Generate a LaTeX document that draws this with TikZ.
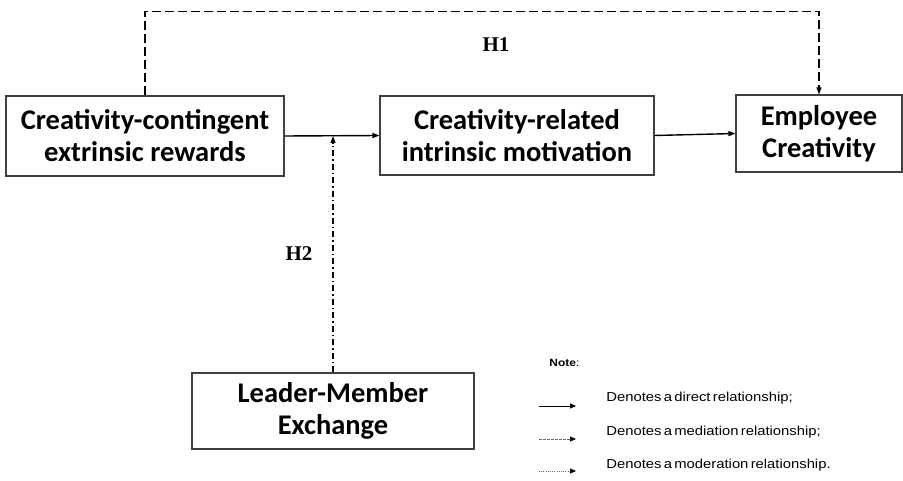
\documentclass[tikz,border=0pt]{standalone}
\usepackage{fontspec}
\setmainfont{Carlito}
\newfontfamily\hypfont{Liberation Serif}
\newfontfamily\notefont[FakeStretch=1.14,WordSpace=0.55]{Liberation Sans}
\usetikzlibrary{arrows.meta}

\begin{document}
\begin{tikzpicture}
            [x=1pt,y=-1pt,thick,
             varbox/.style={draw=black!75,line width=1.1pt,align=center,inner sep=0pt,
                 font=\fontsize{28.5}{32}\selectfont\bfseries},
             tip/.style={-{Triangle[length=7pt,width=5pt]}},
             legtip/.style={-{Triangle[length=6pt,width=5pt,black]}},
             hyp/.style={font=\hypfont\fontsize{21}{23}\selectfont\bfseries},
             legtext/.style={anchor=west,inner sep=0pt,font=\notefont\fontsize{13}{15}\selectfont}]
            \useasboundingbox (0,0) rectangle (903,481);
            \node[varbox,minimum width=278pt,minimum height=80pt] (rewards) at (145,136)
                {Creativity-contingent\\extrinsic rewards};
            \node[varbox,minimum width=274pt,minimum height=79pt] (motivation) at (517,135.5)
                {Creativity-related\\intrinsic motivation};
            \node[varbox,minimum width=166pt,minimum height=77pt] (creativity) at (819,133.5)
                {Employee\\Creativity};
            \node[varbox,minimum width=282pt,minimum height=76pt] (lmx) at (333,411)
                {Leader-Member\\Exchange};
            %
            \draw[tip,line width=1.4pt] (rewards.east) -- (motivation.west);
            \draw[tip,line width=1.4pt] (motivation.east) -- (creativity.west);
            \draw[tip,line width=1.2pt,dash pattern=on 6pt off 3pt on 1.5pt off 3pt]
                (lmx.north) -- (lmx.north |- rewards.east);
            \draw[tip,line width=1.2pt,dash pattern=on 9pt off 4pt]
                (rewards.north) -- ++(0,-84) -| (creativity.north);
            %
            \node[hyp] (h1) at (496,45) {H1};
            \node[hyp] (h2) at (299,254) {H2};
            %
            \node[anchor=west,inner sep=0pt,font=\notefont\fontsize{10.5}{12}\selectfont] (note) at (549,363) {\textbf{Note}:};
            \coordinate (d1) at (539,406);
            \coordinate (d2) at (576,406);
            \coordinate (m1) at (539,439);
            \coordinate (m2) at (576,439);
            \coordinate (o1) at (539,471);
            \coordinate (o2) at (576,471);
            \draw[legtip,line width=0.8pt] (d1) -- (d2);
            \draw[legtip,line width=0.6pt,black!60,dash pattern=on 2.5pt off 1.5pt] (m1) -- (m2);
            \draw[legtip,line width=0.6pt,black!60,dash pattern=on 1pt off 1.2pt] (o1) -- (o2);
            \node[legtext] (dtext) at (606,398) {Denotes a direct relationship;};
            \node[legtext] (mtext) at (606,432) {Denotes a mediation relationship;};
            \node[legtext] (otext) at (606,465) {Denotes a moderation relationship.};
        \end{tikzpicture}
\end{document}
